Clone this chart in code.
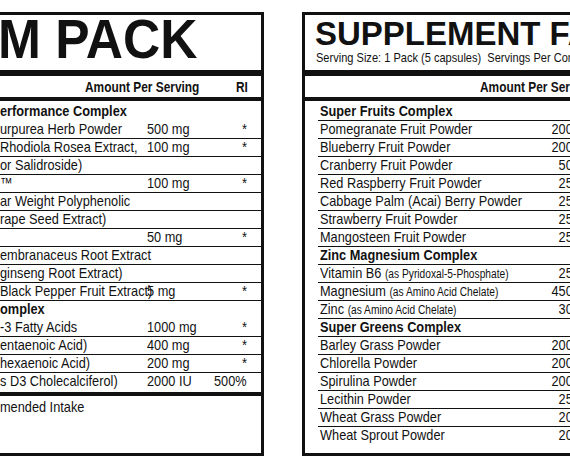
<!DOCTYPE html>
<html><head><meta charset="utf-8">
<script src="https://cdn.jsdelivr.net/npm/chart.js@4"></script>
<style>
body{margin:0;width:570px;height:468px;overflow:hidden;background:#fff;font-family:'Liberation Sans Narrow','Liberation Sans',sans-serif;color:#111;position:relative}
.a{position:absolute;white-space:nowrap;transform:scaleX(0.85);transform-origin:left top}
.box{position:absolute;border:3px solid #111;box-sizing:border-box}
.ln{position:absolute;background:#111}
</style></head><body>
<script>
const leftTitle="M PACK";
const leftRows=[["erformance Complex","","",1],["urpurea Herb Powder","500 mg","*"],["Rhodiola Rosea Extract,","100 mg","*"],["or Salidroside)","",""],["™","100 mg","*"],["ar Weight Polyphenolic","",""],["rape Seed Extract)","",""],["","50 mg","*"],["embranaceus Root Extract","",""],["ginseng Root Extract)","",""],["Black Pepper Fruit Extract)","5 mg","*"],["omplex","","",1],["-3 Fatty Acids","1000 mg","*"],["entaenoic Acid)","400 mg","*"],["hexaenoic Acid)","200 mg","*"],["s D3 Cholecalciferol)","2000 IU","500%"]];
const rightTitle="SUPPLEMENT FACTS";
const rightRows=[["Super Fruits Complex","",1],["Pomegranate Fruit Powder","200 mg"],["Blueberry Fruit Powder","200 mg"],["Cranberry Fruit Powder","50 mg"],["Red Raspberry Fruit Powder","25 mg"],["Cabbage Palm (Acai) Berry Powder","25 mg"],["Strawberry Fruit Powder","25 mg"],["Mangosteen Fruit Powder","25 mg"],["Zinc Magnesium Complex","",1],["Vitamin B6|(as Pyridoxal-5-Phosphate)","25 mg"],["Magnesium|(as Amino Acid Chelate)","450 mg"],["Zinc|(as Amino Acid Chelate)","30 mg"],["Super Greens Complex","",1],["Barley Grass Powder","200 mg"],["Chlorella Powder","200 mg"],["Spirulina Powder","200 mg"],["Lecithin Powder","25 mg"],["Wheat Grass Powder","20 mg"],["Wheat Sprout Powder","20 mg"]];
let h='';
const el=(x,y,t,s)=>h+=`<div class="a" style="left:${x}px;top:${y}px;${s||''}">${t}</div>`;
const ln=(x,y,w,t)=>h+=`<div class="ln" style="left:${x}px;top:${y}px;width:${w}px;height:${t}px"></div>`;
h+=`<div class="box" style="left:-20px;top:12px;width:284px;height:444px"></div>`;
el(-2,6,leftTitle,"font:bold 56px 'Liberation Sans',sans-serif;transform:scaleX(0.92)");
ln(0,70,262,6);
el(85,79,"Amount Per Serving","font-weight:bold;font-size:14px");
el(236,79,"RI","font-weight:bold;font-size:14px");
ln(0,97,262,4);
leftRows.forEach((r,i)=>{const y=102+i*18;
 el(0,y,r[0],r[3]?"font-weight:bold;font-size:15px":"font-size:15px");
 if(r[1])el(147,y,r[1],"font-size:15px");
 if(r[2])el(r[2]=="*"?242:214,y,r[2],"font-size:15px");
 if(i<leftRows.length-1)ln(0,y+18,262,r[3]?0:1);
});
ln(0,392,262,4);
el(0,398,"mended Intake","font-size:15px");
h+=`<div class="box" style="left:302px;top:12px;width:300px;height:444px"></div>`;
el(315,14,rightTitle,"font:bold 34px 'Liberation Sans',sans-serif;transform:scaleX(0.97)");
el(316,50,"Serving Size: 1 Pack (5 capsules)&nbsp; Servings Per Container: 30","font-size:13px");
ln(305,70,270,6);
el(480,79,"Amount Per Serving","font-weight:bold;font-size:14px");
ln(305,97,270,4);
rightRows.forEach((r,i)=>{const y=102+i*18;
 const p=r[0].split('|');
 el(320,y,p[0]+(p[1]?` <span style="font-size:12px">${p[1]}</span>`:''),r[2]?"font-weight:bold;font-size:15px":"font-size:15px");
 if(r[1])el(500,y,r[1],"font-size:15px;width:94px;text-align:right;transform-origin:right top");
 if(i<rightRows.length-1)ln(318,y+18,260,1);
});
document.body.insertAdjacentHTML('beforeend',h);
</script>
</body></html>
